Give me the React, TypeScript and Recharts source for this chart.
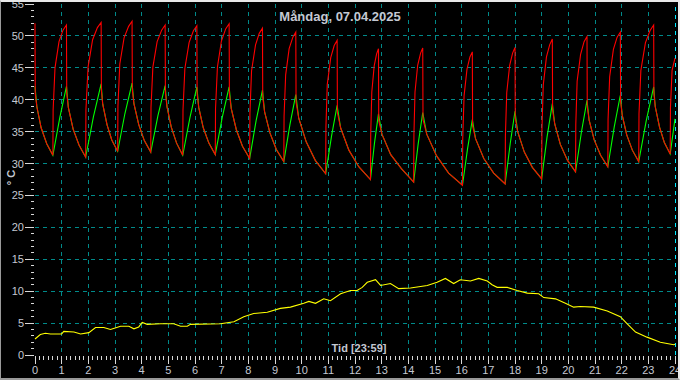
import React from 'react';
import { LineChart, Line, XAxis, YAxis, CartesianGrid, ReferenceLine } from 'recharts';

// flow temperature (red), return temperature (green), outdoor (yellow) — [hour, °C]
const redSeries: [number, number][] = [
  [0, 52.0], [0.01, 41.0], [0.07, 38.9], [0.23, 35.6], [0.44, 33.1], [0.67, 31.3],
  [0.68, 38.4], [0.75, 45.0], [0.9, 49.1], [1.05, 50.9], [1.18, 51.7],
  [1.19, 41.0], [1.25, 38.8], [1.43, 35.4], [1.65, 32.9], [1.9, 31.0],
  [1.91, 38.4], [1.99, 45.1], [2.16, 49.4], [2.34, 51.3], [2.48, 52.1],
  [2.49, 41.4], [2.54, 39.3], [2.7, 36.1], [2.88, 33.7], [3.1, 31.9],
  [3.11, 39.0], [3.18, 45.6], [3.34, 49.7], [3.51, 51.5], [3.64, 52.3],
  [3.65, 41.5], [3.71, 39.4], [3.89, 36.1], [4.1, 33.6], [4.34, 31.8],
  [4.35, 38.8], [4.42, 45.1], [4.58, 49.1], [4.75, 50.9], [4.88, 51.7],
  [4.89, 41.1], [4.95, 38.9], [5.11, 35.7], [5.31, 33.2], [5.54, 31.3],
  [5.55, 38.4], [5.62, 44.9], [5.78, 49.0], [5.94, 50.8], [6.07, 51.6],
  [6.08, 40.9], [6.14, 38.8], [6.31, 35.6], [6.52, 33.2], [6.76, 31.4],
  [6.77, 38.6], [6.84, 45.1], [6.99, 49.2], [7.15, 51.1], [7.28, 51.9],
  [7.29, 40.9], [7.36, 38.6], [7.55, 35.3], [7.78, 32.7], [8.05, 30.8],
  [8.06, 37.9], [8.12, 44.5], [8.27, 48.6], [8.41, 50.4], [8.53, 51.2],
  [8.54, 40.4], [8.61, 38.1], [8.81, 34.8], [9.05, 32.2], [9.33, 30.3],
  [9.34, 37.4], [9.4, 43.9], [9.53, 48.0], [9.67, 49.8], [9.78, 50.6],
  [9.79, 39.6], [9.89, 37.1], [10.17, 33.4], [10.51, 30.5], [10.9, 28.4],
  [10.91, 35.7], [10.96, 42.4], [11.09, 46.6], [11.22, 48.5], [11.33, 49.3],
  [11.34, 38.0], [11.46, 35.6], [11.77, 32.1], [12.14, 29.5], [12.58, 27.5],
  [12.59, 34.7], [12.63, 41.2], [12.72, 45.3], [12.81, 47.2], [12.88, 48.0],
  [12.89, 36.7], [13.01, 34.6], [13.34, 31.4], [13.74, 29.2], [14.2, 27.1],
  [14.21, 34.5], [14.25, 41.2], [14.35, 45.4], [14.46, 47.3], [14.54, 48.1],
  [14.55, 36.9], [14.69, 34.6], [15.06, 31.2], [15.51, 28.5], [16.03, 26.6],
  [16.04, 33.9], [16.09, 40.6], [16.2, 44.8], [16.31, 46.7], [16.4, 47.5],
  [16.41, 35.9], [16.52, 33.9], [16.83, 30.8], [17.2, 28.5], [17.63, 26.8],
  [17.64, 34.3], [17.69, 41.1], [17.8, 45.4], [17.91, 47.3], [18.0, 48.2],
  [18.01, 37.1], [18.1, 35.0], [18.35, 31.8], [18.65, 29.4], [19.0, 27.6],
  [19.01, 35.3], [19.06, 42.3], [19.18, 46.7], [19.3, 48.6], [19.4, 49.5],
  [19.41, 38.3], [19.49, 36.2], [19.7, 33.0], [19.97, 30.5], [20.27, 28.7],
  [20.28, 36.1], [20.33, 42.9], [20.46, 47.1], [20.59, 49.1], [20.7, 49.9],
  [20.71, 38.9], [20.78, 36.8], [20.97, 33.7], [21.21, 31.3], [21.48, 29.5],
  [21.49, 36.9], [21.55, 43.6], [21.69, 47.9], [21.83, 49.8], [21.95, 50.6],
  [21.96, 39.7], [22.02, 37.6], [22.19, 34.5], [22.4, 32.1], [22.64, 30.3],
  [22.65, 37.8], [22.72, 44.6], [22.89, 48.9], [23.06, 50.8], [23.2, 51.7],
  [23.21, 40.9], [23.26, 38.9], [23.42, 35.7], [23.6, 33.3], [23.82, 31.5],
  [23.83, 38.8], [23.89, 44.6], [24.0, 46.5],
];

const greenSeries: [number, number][] = [
  [0, 42.1], [0.07, 38.9], [0.23, 35.6], [0.44, 33.1], [0.67, 31.3], [0.93, 37.2], [1.18, 42.1],
  [1.25, 38.8], [1.43, 35.4], [1.65, 32.9], [1.9, 31.0], [2.19, 37.3], [2.48, 42.5],
  [2.54, 39.3], [2.7, 36.1], [2.88, 33.7], [3.1, 31.9], [3.37, 37.8], [3.64, 42.6],
  [3.71, 39.4], [3.89, 36.1], [4.1, 33.6], [4.34, 31.8], [4.61, 37.5], [4.88, 42.2],
  [4.95, 38.9], [5.11, 35.7], [5.31, 33.2], [5.54, 31.3], [5.81, 37.2], [6.07, 42.0],
  [6.14, 38.8], [6.31, 35.6], [6.52, 33.2], [6.76, 31.4], [7.02, 37.2], [7.28, 42.0],
  [7.36, 38.6], [7.55, 35.3], [7.78, 32.7], [8.05, 30.8], [8.29, 36.7], [8.53, 41.5],
  [8.61, 38.1], [8.81, 34.8], [9.05, 32.2], [9.33, 30.3], [9.56, 36.1], [9.78, 40.8],
  [9.89, 37.1], [10.17, 33.4], [10.51, 30.5], [10.9, 28.4], [11.12, 34.3], [11.33, 39.1],
  [11.46, 35.6], [11.77, 32.1], [12.14, 29.5], [12.58, 27.5], [12.73, 33.2], [12.88, 37.8],
  [13.01, 34.6], [13.34, 31.4], [13.74, 29.2], [14.2, 27.1], [14.37, 33.1], [14.54, 38.0],
  [14.69, 34.6], [15.06, 31.2], [15.51, 28.5], [16.03, 26.6], [16.22, 32.3], [16.4, 36.9],
  [16.52, 33.9], [16.83, 30.8], [17.2, 28.5], [17.63, 26.8], [17.82, 33.1], [18.0, 38.2],
  [18.1, 35.0], [18.35, 31.8], [18.65, 29.4], [19.0, 27.6], [19.2, 34.1], [19.4, 39.4],
  [19.49, 36.2], [19.7, 33.0], [19.97, 30.5], [20.27, 28.7], [20.49, 34.9], [20.7, 39.9],
  [20.78, 36.8], [20.97, 33.7], [21.21, 31.3], [21.48, 29.5], [21.72, 35.7], [21.95, 40.7],
  [22.02, 37.6], [22.19, 34.5], [22.4, 32.1], [22.64, 30.3], [22.92, 36.7], [23.2, 42.0],
  [23.26, 38.9], [23.42, 35.7], [23.6, 33.3], [23.82, 31.5], [24.0, 37.0],
];

const yellowSeries: [number, number][] = [
  [0, 2.5], [0.2, 3.2], [0.39, 3.4], [0.58, 3.3], [1.0, 3.3], [1.08, 3.7], [1.46, 3.6],
  [1.71, 3.3], [2.02, 3.5], [2.27, 4.3], [2.58, 4.3], [2.83, 4.0], [3.21, 4.5], [3.52, 4.5],
  [3.71, 4.1], [3.89, 4.4], [4.02, 5.1], [4.21, 4.8], [4.71, 4.9], [5.2, 4.9], [5.46, 4.5],
  [5.71, 4.5], [5.83, 4.8], [6.96, 4.9], [7.46, 5.2], [7.83, 6.0], [8.2, 6.5], [8.71, 6.7],
  [9.2, 7.3], [9.58, 7.5], [10.08, 8.1], [10.27, 8.4], [10.52, 8.1], [10.83, 8.8], [11.08, 8.5],
  [11.46, 9.6], [11.83, 10.1], [12.08, 10.1], [12.27, 10.6], [12.46, 11.4], [12.77, 11.8],
  [12.96, 10.9], [13.33, 11.2], [13.64, 10.4], [14.08, 10.5], [14.71, 10.9], [15.08, 11.4],
  [15.39, 12.0], [15.7, 11.2], [15.95, 11.8], [16.33, 11.6], [16.64, 12.0], [16.96, 11.6],
  [17.14, 11.0], [17.33, 10.6], [17.71, 10.6], [18.08, 10.1], [18.46, 9.7], [18.89, 9.6],
  [19.08, 9.0], [19.52, 8.8], [19.89, 8.1], [20.2, 7.5], [20.45, 7.6], [20.95, 7.5],
  [21.46, 6.9], [21.95, 6.0], [22.2, 4.9], [22.52, 3.6], [22.95, 2.8], [23.45, 2.0],
  [23.95, 1.6], [24.0, 1.7],
];

const hourTicks = [0, 1, 2, 3, 4, 5, 6, 7, 8, 9, 10, 11, 12, 13, 14, 15, 16, 17, 18, 19, 20, 21, 22, 23, 24];
const gridHours = hourTicks.slice(1, 24);
const gridTemps = [5, 10, 15, 20, 25, 30, 35, 40, 45, 50];
const xTicks = Array.from({ length: 24 * 6 + 1 }, (_, i) => i / 6); // every 10 min
const yTicks = Array.from({ length: 56 }, (_, i) => i);
const X_MAX = 24;
const Y_MAX = 55;

const FONT = '"Liberation Sans", Arial, sans-serif';
const TEXT = '#c4c8d2';
const GRID = '#008a8a';

const toRows = (s: [number, number][]) => s.map(([t, v]) => ({ t, v }));

// grid only on whole hours / every 5 degrees, not on every minor tick
const gridY = ({ offset }: any) => gridTemps.map((v) => offset.top + offset.height * (1 - v / Y_MAX));
const gridX = ({ offset }: any) => gridHours.map((h) => offset.left + offset.width * (h / X_MAX));

const YTick = (props: any) => {
  const { x, y, payload } = props;
  const major = payload.value % 5 === 0;
  return (
    <g>
      <line x1={x - (major ? 10 : 4)} x2={x - 1} y1={y} y2={y} stroke="#d8d8d8" shapeRendering="crispEdges" />
      {major && (
        <text x={x - 11} y={y} dy={4} textAnchor="end" fill={TEXT} fontSize={11} fontFamily={FONT}>
          {payload.value}
        </text>
      )}
    </g>
  );
};

const XTick = (props: any) => {
  const { x, y, payload } = props;
  const major = Math.abs(payload.value - Math.round(payload.value)) < 1e-6;
  return (
    <g>
      <line x1={x} x2={x} y1={y + 1} y2={y + (major ? 9 : 5)} stroke="#d8d8d8" shapeRendering="crispEdges" />
      {major && (
        <text x={x} y={y + 19} textAnchor="middle" fill={TEXT} fontSize={11} fontFamily={FONT}>
          {Math.round(payload.value)}
        </text>
      )}
    </g>
  );
};

export default function App() {
  return (
    <div style={{ position: 'fixed', left: 0, top: 0, width: 680, height: 380, background: '#000', overflow: 'hidden' }}>
      <LineChart width={680} height={380} margin={{ top: 4, right: 5, bottom: 0, left: 0 }}>
        <CartesianGrid
          stroke={GRID}
          strokeDasharray="4 4"
          shapeRendering="crispEdges"
          horizontalCoordinatesGenerator={gridY}
          verticalCoordinatesGenerator={gridX}
        />
        <XAxis
          type="number"
          dataKey="t"
          domain={[0, X_MAX]}
          ticks={xTicks}
          interval={0}
          height={25}
          tickSize={0}
          tickMargin={0}
          axisLine={false}
          tickLine={false}
          tick={<XTick />}
        />
        <YAxis
          type="number"
          domain={[0, Y_MAX]}
          ticks={yTicks}
          interval={0}
          width={35}
          tickSize={0}
          tickMargin={0}
          axisLine={false}
          tickLine={false}
          tick={<YTick />}
        />
        <ReferenceLine x={24} stroke="#00e8ff" strokeDasharray="4 4" shapeRendering="crispEdges" />
        <Line data={toRows(yellowSeries)} dataKey="v" type="linear" stroke="#ffff00" strokeWidth={1.1} dot={false} isAnimationActive={false} />
        <Line data={toRows(greenSeries)} dataKey="v" type="linear" stroke="#00ff00" strokeWidth={1.1} dot={false} isAnimationActive={false} />
        <Line data={toRows(redSeries)} dataKey="v" type="linear" stroke="#ff0000" strokeWidth={1.1} dot={false} isAnimationActive={false} />
      </LineChart>
      <div style={{ position: 'absolute', left: 240, width: 200, top: 9, textAlign: 'center', color: TEXT, fontFamily: FONT, fontSize: 13, fontWeight: 'bold', lineHeight: '15px' }}>
        Måndag, 07.04.2025
      </div>
      <div style={{ position: 'absolute', left: 309, width: 100, top: 342, textAlign: 'center', color: TEXT, fontFamily: FONT, fontSize: 11, fontWeight: 'bold', lineHeight: '13px' }}>
        Tid [23:59]
      </div>
      <div style={{ position: 'absolute', left: -9, width: 40, top: 171, textAlign: 'center', color: TEXT, fontFamily: FONT, fontSize: 11, fontWeight: 'bold', lineHeight: '13px', transform: 'rotate(-90deg)' }}>
        ° C
      </div>
      <div style={{ position: 'absolute', inset: 0, pointerEvents: 'none', borderTop: '2px solid #e8e8e8', borderRight: '2px solid #e8e8e8', borderLeft: '1px solid #9a9a9a', borderBottom: '2px solid #9a9a9a' }} />
    </div>
  );
}
